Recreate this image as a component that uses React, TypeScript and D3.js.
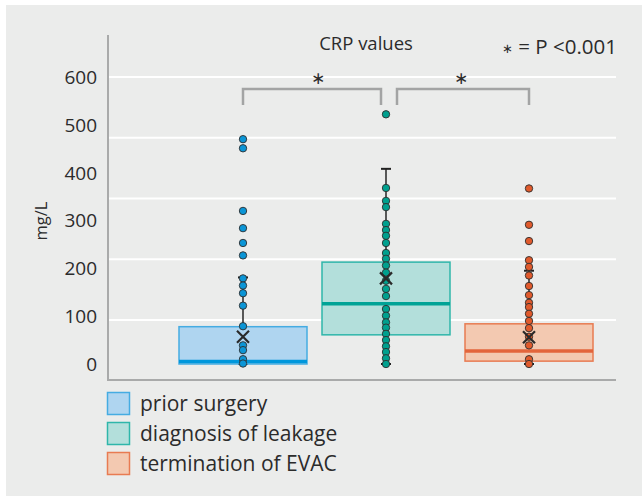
import React from "react";
import * as d3 from "d3";

const groups = ["prior surgery", "diagnosis of leakage", "termination of EVAC"];
const fills = ["#afd5f0", "#b3dfdb", "#f3c9b1"];
const strokes = ["#45ace2", "#2fb6aa", "#e87b52"];
const medianColors = ["#0097dc", "#00a396", "#e3653c"];
const dotColors = ["#0b95d6", "#00a08e", "#e05a2c"];

// box stats per group
const q1 = [0, 61, 6];
const medians = [5, 126, 27];
const q3 = [78, 213, 84];
const whiskLow = [0, 0, 0];
const whiskHigh = [181, 408, 195];
const means = [57, 179, 56];

const priorPts = [470, 451, 320, 284, 253, 227, 179, 164, 148, 122, 79, 39, 29, 10, 1];
const leakPts = [522, 368, 341, 328, 293, 280, 268, 253, 232, 220, 206, 191, 174, 157, 142, 115, 101, 87, 76, 63, 50, 37, 25, 12, 0];
const termPts = [367, 291, 257, 217, 203, 185, 163, 144, 128, 119, 105, 90, 75, 57, 39, 10, 0];
const points = [priorPts, leakPts, termPts];

const yTicks = [0, 100, 200, 300, 400, 500, 600];
const gridValues = [600, 473, 346, 219, 92];

const W = 642;
const H = 496;
const font = "'Open Sans', sans-serif";

export default function App() {
  const x = d3.scalePoint<string>().domain(groups).range([243, 529]);
  const y = d3.scaleLinear().domain([0, 600]).range([364, 77]);
  const boxW = 128;
  const left = 108;
  const right = 616;
  const bottom = 380;

  return (
    <svg width={W} height={H} style={{ position: "absolute", left: 0, top: 0 }}>
      <rect x={6} y={5} width={W - 6} height={H - 5} fill="#ebeceb" />

      {/* gridlines */}
      {gridValues.map((g) => (
        <line key={g} x1={left} x2={right} y1={y(g)} y2={y(g)} stroke="#fff" strokeWidth={2.2} />
      ))}

      {/* axes */}
      <line x1={left} x2={left} y1={35} y2={bottom} stroke="#a9aaaa" strokeWidth={2} />
      <line x1={left - 1} x2={right} y1={bottom} y2={bottom} stroke="#a9aaaa" strokeWidth={2} />

      {yTicks.map((t) => (
        <text key={t} x={97} y={y(t)} dy="0.36em" textAnchor="end" fontFamily={font} fontSize={19} fill="#2b2b2b">
          {t}
        </text>
      ))}
      <text transform={`translate(47,221) rotate(-90)`} textAnchor="middle" fontFamily={font} fontSize={16.5} fill="#2b2b2b">
        mg/L
      </text>

      <text x={366} y={50} textAnchor="middle" fontFamily={font} fontSize={18.5} fill="#2b2b2b">
        CRP values
      </text>
      <text x={617} y={54} textAnchor="end" fontFamily={font} fontSize={20.5} fill="#2b2b2b">
        <tspan fontSize={13} dy="-1">∗</tspan>
        <tspan dy="1"> = P &lt;0.001</tspan>
      </text>

      {/* significance brackets */}
      <g fill="none" stroke="#a3a4a4" strokeWidth={2.5}>
        <path d={`M${x(groups[0])},105V89H381V105`} />
        <path d={`M397,105V89H${x(groups[2])}V105`} />
      </g>
      <text x={318} y={84} textAnchor="middle" fontFamily="'DejaVu Sans', sans-serif" fontSize={17} fill="#2b2b2b">∗</text>
      <text x={461} y={84} textAnchor="middle" fontFamily="'DejaVu Sans', sans-serif" fontSize={17} fill="#2b2b2b">∗</text>

      {groups.map((g, i) => {
        const cx = x(g) as number;
        return (
          <g key={g}>
            <line x1={cx} x2={cx} y1={y(whiskLow[i])} y2={y(whiskHigh[i])} stroke="#333" strokeWidth={1.6} />
            <line x1={cx - 5} x2={cx + 5} y1={y(whiskHigh[i])} y2={y(whiskHigh[i])} stroke="#222" strokeWidth={2} />
            <line x1={cx - 5} x2={cx + 5} y1={y(whiskLow[i])} y2={y(whiskLow[i])} stroke="#222" strokeWidth={2} />
            <rect
              x={cx - boxW / 2}
              y={y(q3[i])}
              width={boxW}
              height={y(q1[i]) - y(q3[i])}
              fill={fills[i]}
              stroke={strokes[i]}
              strokeWidth={1.5}
            />
            <line
              x1={cx - boxW / 2}
              x2={cx + boxW / 2}
              y1={y(medians[i])}
              y2={y(medians[i])}
              stroke={medianColors[i]}
              strokeWidth={3.5}
            />
            {points[i].map((v, j) => (
              <circle key={j} cx={cx} cy={y(v)} r={3.7} fill={dotColors[i]} stroke="#2e2e2e" strokeWidth={0.9} />
            ))}
            <path
              d={`M${cx - 6},${y(means[i]) - 6}L${cx + 6},${y(means[i]) + 6}M${cx + 6},${y(means[i]) - 6}L${cx - 6},${y(means[i]) + 6}`}
              stroke="#2a2a2a"
              strokeWidth={2.2}
            />
          </g>
        );
      })}

      {/* legend */}
      {groups.map((g, i) => (
        <g key={g} transform={`translate(107,${392 + i * 30})`}>
          <rect x={0.5} y={0.5} width={22} height={22} fill={fills[i]} stroke={strokes[i]} strokeWidth={1.5} />
          <text x={33} y={19} fontFamily={font} fontSize={21} fill="#2b2b2b">
            {g}
          </text>
        </g>
      ))}
    </svg>
  );
}
